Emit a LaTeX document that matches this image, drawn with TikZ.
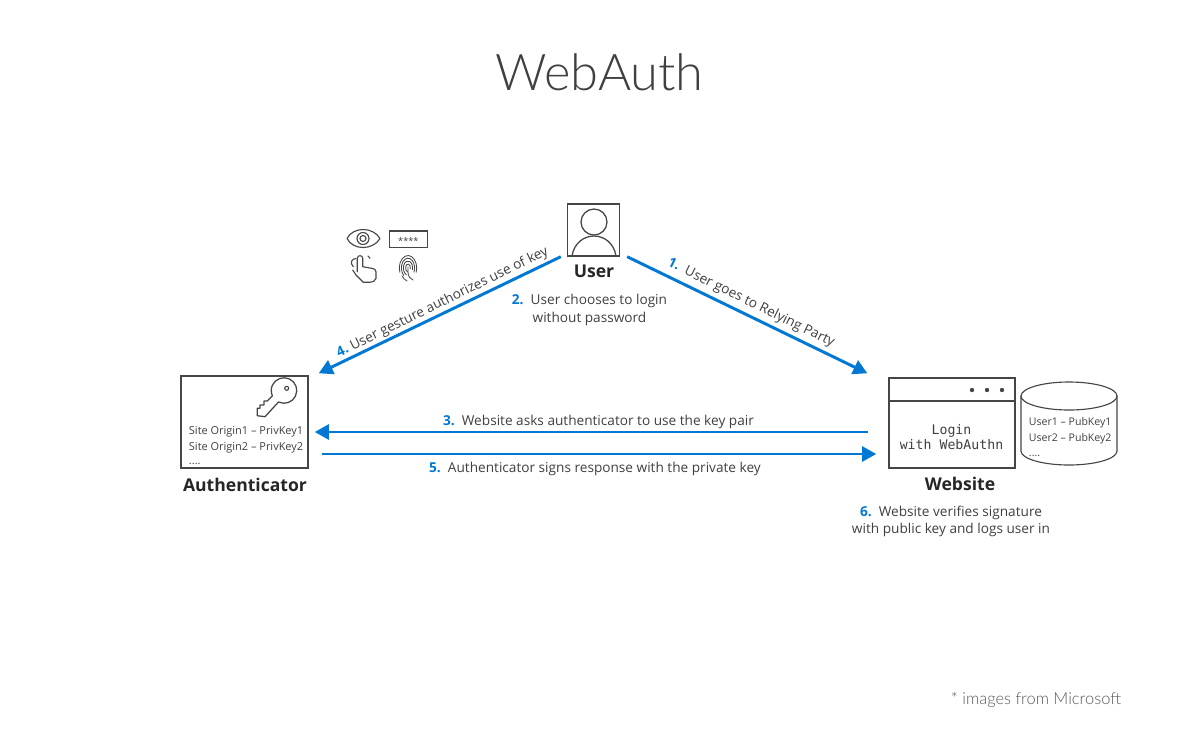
\documentclass[tikz,border=0pt]{standalone}
\usepackage{fontspec}
\setmainfont{Open Sans}
\newfontfamily\titlefont{Lato Light}
\newfontfamily\loginfont{DejaVu Sans Mono}
\usetikzlibrary{arrows.meta, positioning, calc}
\definecolor{wablue}{RGB}{0,120,212}
\definecolor{watext}{RGB}{64,64,64}
\definecolor{waline}{RGB}{70,70,70}
\newcommand{\stepnum}[1]{{\color{wablue}\bfseries #1}}
\tikzset{
  wabox/.style={draw=waline, line width=1pt, inner sep=0pt},
  walabel/.style={watext, font=\fontsize{9.7}{12.5}\selectfont, align=center},
  wahead/.style={black!85, font=\fontsize{12.5}{15}\selectfont\bfseries},
  wasmall/.style={watext, font=\fontsize{7.8}{12}\selectfont, anchor=west},
  waflow/.style={draw=wablue, line width=2.1pt, -{Triangle[length=10pt, width=10.5pt]}},
  waicon/.style={draw=waline, line width=0.8pt, line cap=round, line join=round}
}
\begin{document}
\begin{tikzpicture}[x=0.025cm, y=-0.025cm]
\useasboundingbox (0,0) rectangle (1198,745);
\fill[white] (0,0) rectangle (1198,745);

% title
\node[text=black!75, font=\titlefont\fontsize{36}{40}\selectfont] (title) at (599.5,72) {WebAuth};
\node[text=black!65, font=\titlefont\fontsize{11.7}{14}\selectfont, anchor=east] (credit) at (1126,700) {* images from Microsoft};

% user
\node[wabox, minimum width=1.3cm, minimum height=1.3cm] (user) at (593.5,230) {};
\draw[waicon, line width=0.9pt] (594,222) circle (13);
\draw[waicon, line width=0.9pt] (572,256) .. controls (574,243) and (584,236) .. (594,236) .. controls (604,236) and (614,243) .. (616,256);
\node[wahead] (username) at (594,271) {User};

% gesture icons
\draw[waicon] (347,238.5) .. controls (353,226.5) and (373,226.5) .. (380,238.5) .. controls (373,250.5) and (353,250.5) .. (347,238.5) -- cycle;
\draw[waicon] (363,238.5) circle (6);
\draw[waicon] (363,238.5) circle (3);
\node[draw=waline, line width=0.8pt, inner sep=0pt, minimum width=0.95cm, minimum height=0.42cm] (pin) at (408.3,239.4) {};
\node[watext, font=\fontsize{6.5}{8}\selectfont] (pintext) at (408.3,241.5) {****};
% hand
\draw[waicon] (357.3,271.7) -- (357.3,258.3) .. controls (357.3,254.8) and (362.7,254.8) .. (362.7,258.3) -- (362.7,266.7) -- (371.7,268.3) .. controls (375,269) and (376,270) .. (376,272) -- (376,278.3) .. controls (375,281) and (373,282.3) .. (370,282.3) -- (363.3,282.3) -- (356,275) -- (352.7,270);
\draw[waicon] (356,258.5) .. controls (351.7,258.5) and (349.5,263) .. (353.3,266.7);
\draw[waicon] (368,256) -- (370,258.3);
% fingerprint
\foreach \rx/\ry/\a/\b in {8.7/12.5/160/380, 6.6/9.8/130/385, 4.6/7/110/375, 2.4/4/100/370} {
  \draw[waicon, line width=0.6pt] ({408+\rx*cos(\a)},{268+\ry*sin(\a)}) arc[start angle=\a, end angle=\b, x radius=\rx, y radius=\ry];
}
\draw[waicon, line width=0.6pt] (408,267) -- (408,272) .. controls (408,276) and (410,279) .. (413,280);
\draw[waicon, line width=0.6pt] (402,276) .. controls (403,278) and (405,280) .. (407,281);

% authenticator
\node[wabox, minimum width=3.175cm, minimum height=2.3cm] (auth) at (244.5,422) {};
\draw[waicon, line width=0.9pt] (278.5,402) arc[start angle=115.6, end angle=-204.6, radius=12.75] -- (267.3,401) -- (264,401) -- (264,405) -- (260,405) -- (260,408.3) -- (257.3,408.3) -- (257.3,415.7) -- (265,416.7) -- cycle;
\draw[waicon] (286.7,388.3) circle (2);
\node[wasmall] (site1) at (184,432) {Site Origin1 – PrivKey1};
\node[wasmall] (site2) at (184,448) {Site Origin2 – PrivKey2};
\node[wasmall] (site3) at (184,464) {....};
\node[wahead] (authname) at (245,485) {Authenticator};

% website
\node[wabox, minimum width=3.15cm, minimum height=2.25cm] (web) at (952,423) {};
\draw[waline, line width=1pt] (web.north west |- 0,401) -- (web.north east |- 0,401);
\foreach \x in {972,987,1002} \fill[waline] (\x,390) circle (2.2);
\node[watext, font=\loginfont\fontsize{9.4}{11}\selectfont, align=center] (login) at (951.5,437) {Login\\with WebAuthn};
\node[wahead] (webname) at (960,484) {Website};

% key store
\draw[waicon, fill=white] (1021,396) -- (1021,451) arc[start angle=180, end angle=0, x radius=48, y radius=14] -- (1117,396);
\draw[waicon] (1069,396) ellipse (48 and 14);
\node[wasmall, font=\fontsize{7.5}{12}\selectfont] (pub1) at (1024,423) {User1 – PubKey1};
\node[wasmall, font=\fontsize{7.5}{12}\selectfont] (pub2) at (1024,439) {User2 – PubKey2};
\node[wasmall, font=\fontsize{7.5}{12}\selectfont] (pub3) at (1024,456) {....};

% connector ends
\coordinate (uleft) at ($(user.south west)+(-6,0)$);
\coordinate (uright) at ($(user.south east)+(7,0)$);
\coordinate (aup) at ($(auth.north east)+(10,-2)$);
\coordinate (wup) at ($(web.north west)+(-21,-4)$);
\coordinate (ain) at ($(auth.east)+(6,10)$);
\coordinate (aout) at ($(auth.east)+(13,32)$);
\coordinate (wout) at ($(web.west)+(-20,9)$);
\coordinate (win) at ($(web.west)+(-12,31)$);

% arrows
\draw[waflow] (uright) -- (wup);
\draw[waflow] (uleft) -- (aup);
\draw[waflow] (wout) -- (ain);
\draw[waflow] (aout) -- (win);

% labels
\node[walabel, rotate=-26.2] (step1) at (751,303) {\stepnum{1.}\ \ User goes to Relying Party};
\node[walabel] (step2) at (589.5,310) {\stepnum{2.}\ \ User chooses to login\\without password};
\node[walabel] (step3) at (598.5,422) {\stepnum{3.}\ \ Website asks authenticator to use the key pair};
\node[walabel, rotate=26.2] (step4) at (442.5,302.5) {\stepnum{4.}\ User gesture authorizes use of key};
\node[walabel] (step5) at (595,469) {\stepnum{5.}\ \ Authenticator signs response with the private key};
\node[walabel] (step6) at (951,521.5) {\stepnum{6.}\ \ Website verifies signature\\with public key and logs user in};
\end{tikzpicture}
\end{document}
